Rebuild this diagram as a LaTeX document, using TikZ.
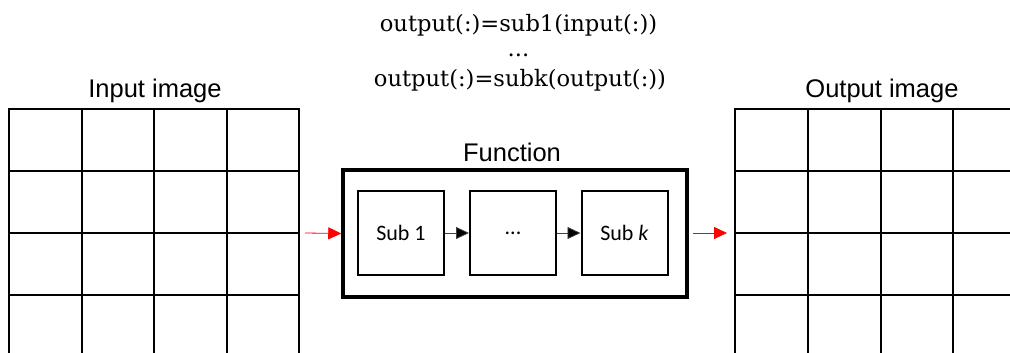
\documentclass[tikz,border=0pt]{standalone}
\usepackage{fontspec}
\setmainfont{DejaVu Serif}
\newfontfamily\labelfont{Liberation Sans}
\newfontfamily\boxfont{Carlito}
\usetikzlibrary{arrows.meta}
\begin{document}
\begin{tikzpicture}[x=1pt,y=-1pt,
  gridline/.style={line width=2pt,line cap=rect},
  subbox/.style={draw,line width=2pt,minimum width=86pt,minimum height=84pt,inner sep=0pt,font=\boxfont\fontsize{22}{26}\selectfont},
  fnbox/.style={draw,line width=3.5pt,minimum width=344pt,minimum height=127pt,inner sep=0pt},
  lbl/.style={font=\labelfont\fontsize{25.5}{30}\selectfont,inner sep=0pt},
  eq/.style={font=\fontsize{22.6}{26}\selectfont,inner sep=0pt,anchor=base},
  redarrow/.style={draw=red,line width=0.8pt,-{Triangle[length=13pt,width=12pt]}},
  blkarrow/.style={draw=black!75,line width=0.8pt,-{Triangle[length=13pt,width=12pt,fill=black]}}
]
\useasboundingbox (0,0) rectangle (1010,353);
% input grid
\foreach \x in {9,82,154,227,299} \draw[gridline] (\x,109) -- (\x,353);
\foreach \y in {109,171,233,295} \draw[gridline] (9,\y) -- (299,\y);
% output grid
\foreach \x in {735,808,881,953} \draw[gridline] (\x,109) -- (\x,353);
\foreach \y in {109,171,233,295} \draw[gridline] (735,\y) -- (1010,\y);
% labels
\node[lbl] (inlbl) at (155,91) {Input image};
\node[lbl] (outlbl) at (882,91) {Output image};
\node[lbl] (fnlbl) at (512,152) {Function};
% equations
\node[eq] (eq1) at (518.5,32) {output(:)=sub1(input(:))};
\node[eq] (eq2) at (518.5,57) {...};
\node[eq] (eq3) at (520,87) {output(:)=subk(output(:))};
% function box
\node[fnbox] (fn) at (515,233.5) {};
\node[subbox] (s1) at (401,233) {Sub 1};
\node[subbox] (s2) at (513,233) {...};
\node[subbox] (s3) at (624.5,233) {Sub \textit{k}};
\draw[blkarrow] (s1) -- (s2);
\draw[blkarrow] (s2) -- (s3);
% red connectors
\coordinate (inend) at (305,233);
\coordinate (outstart) at (693,233);
\coordinate (outend) at (727,233);
\draw[redarrow] (inend) -- (fn.west);
\draw[redarrow] (outstart) -- (outend);
\end{tikzpicture}
\end{document}
